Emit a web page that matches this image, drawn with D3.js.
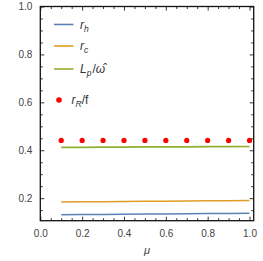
<!DOCTYPE html>
<html>
<head>
<meta charset="utf-8">
<script src="https://cdn.jsdelivr.net/npm/d3@7"></script>
<style>
	body { margin: 0; background: #fff; }
	svg text { font-family: "Liberation Sans", Arial, sans-serif; }
</style>
</head>
<body>
<svg id="chart" width="263" height="261"></svg>
<script>
var muValues = [0.1, 0.2, 0.3, 0.4, 0.5, 0.6, 0.7, 0.8, 0.9, 1.0];
var rhValues = [0.131, 0.132, 0.132, 0.133, 0.134, 0.134, 0.135, 0.136, 0.136, 0.137];
var rcValues = [0.184, 0.185, 0.185, 0.186, 0.187, 0.187, 0.188, 0.189, 0.189, 0.190];
var lpValues = [0.412, 0.412, 0.413, 0.413, 0.414, 0.414, 0.414, 0.415, 0.415, 0.416];
var rrValues = [0.441, 0.441, 0.441, 0.441, 0.441, 0.441, 0.441, 0.441, 0.441, 0.441];
var xTicks = [0.0, 0.2, 0.4, 0.6, 0.8, 1.0];
var yTicks = [0.2, 0.4, 0.6, 0.8, 1.0];

var FRAME = {left: 40.3, right: 253.7, top: 6.5, bottom: 220.7};

var svg = d3.select("#chart");

var x = d3.scaleLinear().domain([0, 1.02]).range([FRAME.left, FRAME.right]);
var y = d3.scaleLinear().domain([0.106, 1.0]).range([FRAME.bottom, FRAME.top]);

var xMinor = d3.range(0, 1.0001, 0.05).filter(function(d) { return Math.abs(d * 5 - Math.round(d * 5)) > 1e-6; });
var yMinor = d3.range(0.15, 1.0001, 0.05).filter(function(d) { return Math.abs(d * 5 - Math.round(d * 5)) > 1e-6; });

// series
var series = [
	{name: "rh", values: rhValues, color: "#5e81b5"},
	{name: "rc", values: rcValues, color: "#e19c24"},
	{name: "lp", values: lpValues, color: "#8fb032"}
];

var line = d3.line()
	.x(function(d, i) { return x(muValues[i]); })
	.y(function(d) { return y(d); });

svg.selectAll("path.series")
	.data(series)
	.enter().append("path")
		.classed("series", true)
		.attr("d", function(s) { return line(s.values); })
		.attr("fill", "none")
		.attr("stroke", function(s) { return s.color; })
		.attr("stroke-width", 1.6);

svg.selectAll("circle.rr")
	.data(rrValues)
	.enter().append("circle")
		.classed("rr", true)
		.attr("cx", function(d, i) { return x(muValues[i]); })
		.attr("cy", function(d) { return y(d); })
		.attr("r", 2.6)
		.attr("fill", "#ff0000");

// axes (ticks inside, on all four sides)
var tickColor = "#333";
function addAxis(axis, transform, labels) {
	var g = svg.append("g").attr("transform", transform).call(axis);
	g.select(".domain").remove();
	g.selectAll("line").attr("stroke", tickColor);
	g.selectAll("text")
		.attr("fill", labels ? "#444" : "none")
		.attr("font-size", 10);
	return g;
}

addAxis(d3.axisBottom(x).tickValues(xTicks).tickSize(-4).tickPadding(9).tickFormat(d3.format(".1f")),
	"translate(0," + FRAME.bottom + ")", true);
addAxis(d3.axisBottom(x).tickValues(xMinor).tickSize(-2.5).tickFormat(""),
	"translate(0," + FRAME.bottom + ")", false);
addAxis(d3.axisTop(x).tickValues(xTicks).tickSize(-4).tickFormat(""),
	"translate(0," + FRAME.top + ")", false);
addAxis(d3.axisTop(x).tickValues(xMinor).tickSize(-2.5).tickFormat(""),
	"translate(0," + FRAME.top + ")", false);

addAxis(d3.axisLeft(y).tickValues(yTicks).tickSize(-4).tickPadding(8).tickFormat(d3.format(".1f")),
	"translate(" + FRAME.left + ",0)", true);
addAxis(d3.axisLeft(y).tickValues(yMinor).tickSize(-2.5).tickFormat(""),
	"translate(" + FRAME.left + ",0)", false);
addAxis(d3.axisRight(y).tickValues(yTicks).tickSize(-4).tickFormat(""),
	"translate(" + FRAME.right + ",0)", false);
addAxis(d3.axisRight(y).tickValues(yMinor).tickSize(-2.5).tickFormat(""),
	"translate(" + FRAME.right + ",0)", false);

svg.append("rect")
	.attr("x", FRAME.left)
	.attr("y", FRAME.top)
	.attr("width", FRAME.right - FRAME.left)
	.attr("height", FRAME.bottom - FRAME.top)
	.attr("fill", "none")
	.attr("stroke", "#111")
	.attr("stroke-width", 1.3);

svg.append("text")
	.attr("x", (FRAME.left + FRAME.right) / 2)
	.attr("y", 254)
	.attr("text-anchor", "middle")
	.attr("font-size", 11)
	.attr("font-style", "italic")
	.attr("fill", "#444")
	.text("μ");

// legend
var legendRows = [
	{color: "#5e81b5", y: 24.5, base: "r", sub: "h", rest: ""},
	{color: "#e19c24", y: 46, base: "r", sub: "c", rest: ""},
	{color: "#8fb032", y: 69, base: "L", sub: "p", rest: "/"}
];

var legend = svg.append("g");
legendRows.forEach(function(row) {
	legend.append("line")
		.attr("x1", 54).attr("x2", 73.5)
		.attr("y1", row.y).attr("y2", row.y)
		.attr("stroke", row.color)
		.attr("stroke-width", 1.6);
	var t = legend.append("text")
		.attr("x", 80)
		.attr("y", row.y + 4)
		.attr("font-size", 12)
		.attr("fill", "#333");
	t.append("tspan").attr("font-style", "italic").text(row.base);
	t.append("tspan").attr("font-style", "italic").attr("font-size", 8.5).attr("dy", 3).text(row.sub);
	if (row.rest) {
		t.append("tspan").attr("dy", -3).attr("dx", 1).text(row.rest);
		t.append("tspan").attr("font-style", "italic").text("ω\u0302");
	}
});

legend.append("circle")
	.attr("cx", 59).attr("cy", 100)
	.attr("r", 2.8)
	.attr("fill", "#ff0000");
var tr = legend.append("text")
	.attr("x", 71.5)
	.attr("y", 104)
	.attr("font-size", 12)
	.attr("fill", "#333");
tr.append("tspan").attr("font-style", "italic").text("r");
tr.append("tspan").attr("font-style", "italic").attr("font-size", 8.5).attr("dy", 3).text("R");
tr.append("tspan").attr("dy", -3).text("/f");
</script>
</body>
</html>
